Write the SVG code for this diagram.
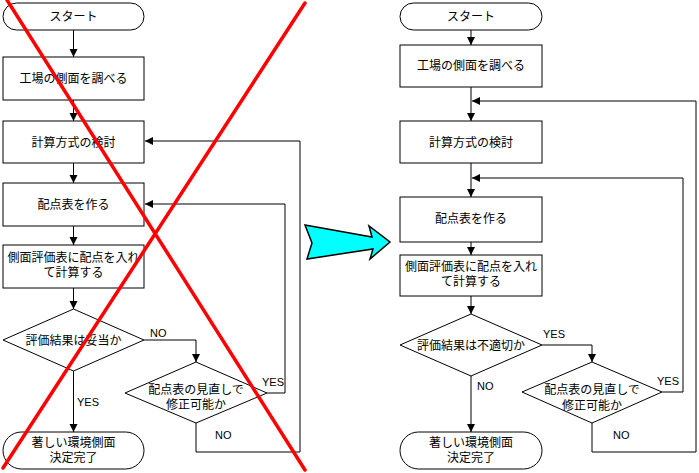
<svg xmlns="http://www.w3.org/2000/svg" width="699" height="473" viewBox="0 0 699 473">
<defs>
<style>
.n{fill:#fff;stroke:#000;stroke-width:1}
.t{font-family:"Noto Sans CJK JP","Noto Sans",sans-serif;font-size:12px;fill:#000;text-anchor:middle}
.l{font-family:"Liberation Sans",Arial,sans-serif;font-size:11px;fill:#000}
.c{fill:none;stroke:#000;stroke-width:1}
.x{stroke:#f00;stroke-width:3.5;stroke-linecap:round}
</style>
<marker id="ah" markerUnits="userSpaceOnUse" markerWidth="9" markerHeight="9" refX="8" refY="4" orient="auto">
<path d="M0,0 L8,4 L0,8 z" fill="#000"/>
</marker>
</defs>
<rect width="699" height="473" fill="#fff"/>

<!-- connectors -->
<g id="connectors" class="c" marker-end="url(#ah)">
<path d="M73.5,30 V57"/>
<path d="M73.5,100 V121"/>
<path d="M73.5,163 V183"/>
<path d="M73.5,226 V245"/>
<path d="M73.5,288 V309"/>
<path d="M73.5,371 V432"/>
<path d="M144,340 H196 V362"/>
<path d="M267,393 H285 V204 H145"/>
<path d="M196,423 V452 H300 V141 H145"/>
<path d="M471,30 V45"/>
<path d="M471,87 V121"/>
<path d="M471,163 V197"/>
<path d="M471,242 V255"/>
<path d="M471,296 V314"/>
<path d="M471,376 V432"/>
<path d="M542,345 H592 V362"/>
<path d="M662,392 H683 V178 H472"/>
<path d="M592,423 V452 H696 V101 H472"/>
</g>
<g id="connector-labels" class="l">
<text x="150" y="337">NO</text>
<text x="77" y="406">YES</text>
<text x="262" y="386">YES</text>
<text x="215" y="439">NO</text>
<text x="543" y="338">YES</text>
<text x="657" y="385">YES</text>
<text x="613" y="439">NO</text>
<text x="477" y="390">NO</text>
</g>

<!-- left chart -->
<g id="L-start"><rect class="n" x="3" y="3" width="141" height="27" rx="13.5"/><text class="t" x="73.5" y="21">スタート</text></g>
<g id="L-box1"><rect class="n" x="3" y="57" width="141" height="43"/><text class="t" x="73.5" y="83">工場の側面を調べる</text></g>
<g id="L-box2"><rect class="n" x="3" y="121" width="141" height="42"/><text class="t" x="73.5" y="146.5">計算方式の検討</text></g>
<g id="L-box3"><rect class="n" x="3" y="183" width="141" height="43"/><text class="t" x="73.5" y="209">配点表を作る</text></g>
<g id="L-box4"><rect class="n" x="3" y="245" width="141" height="43"/><text class="t" x="73.5" y="261.5">側面評価表に配点を入れ<tspan x="73.5" dy="15.6">て計算する</tspan></text></g>
<g id="L-dec1"><polygon class="n" points="3,340 73.5,309 144,340 73.5,371"/><text class="t" x="73.5" y="344.5">評価結果は妥当か</text></g>
<g id="L-dec2"><polygon class="n" points="125,393 196,362 267,393 196,423"/><text class="t" x="196" y="393.5">配点表の見直しで<tspan x="196" dy="15.6">修正可能か</tspan></text></g>
<g id="L-end"><rect class="n" x="3" y="432" width="141" height="37" rx="18.5"/><text class="t" x="73.5" y="446.5">著しい環境側面<tspan x="73.5" dy="15.6">決定完了</tspan></text></g>

<!-- right chart -->
<g id="R-start"><rect class="n" x="400" y="3" width="142" height="27" rx="13.5"/><text class="t" x="471" y="21">スタート</text></g>
<g id="R-box1"><rect class="n" x="400" y="45" width="142" height="42"/><text class="t" x="471" y="70">工場の側面を調べる</text></g>
<g id="R-box2"><rect class="n" x="400" y="121" width="142" height="42"/><text class="t" x="471" y="146.5">計算方式の検討</text></g>
<g id="R-box3"><rect class="n" x="400" y="197" width="142" height="45"/><text class="t" x="471" y="223">配点表を作る</text></g>
<g id="R-box4"><rect class="n" x="400" y="255" width="142" height="41"/><text class="t" x="471" y="270.5">側面評価表に配点を入れ<tspan x="471" dy="15.6">て計算する</tspan></text></g>
<g id="R-dec1"><polygon class="n" points="400,345 471,314 542,345 471,376"/><text class="t" x="471" y="349.5">評価結果は不適切か</text></g>
<g id="R-dec2"><polygon class="n" points="522,392 592,362 662,392 592,423"/><text class="t" x="592" y="394">配点表の見直しで<tspan x="592" dy="15.6">修正可能か</tspan></text></g>
<g id="R-end"><rect class="n" x="400" y="432" width="142" height="37" rx="18.5"/><text class="t" x="471" y="446.5">著しい環境側面<tspan x="471" dy="15.6">決定完了</tspan></text></g>

<!-- red cross -->
<g id="cross">
<line class="x" x1="7" y1="0" x2="305" y2="470"/>
<line class="x" x1="305" y1="3" x2="3" y2="468"/>
</g>

<!-- cyan arrow -->
<g id="big-arrow">
<polygon points="305,225 372,237 369,226 390,242 370,259 373,249 307,259 312,243" fill="#00ffff" stroke="#000" stroke-width="1.5" stroke-linejoin="miter"/>
</g>
</svg>
